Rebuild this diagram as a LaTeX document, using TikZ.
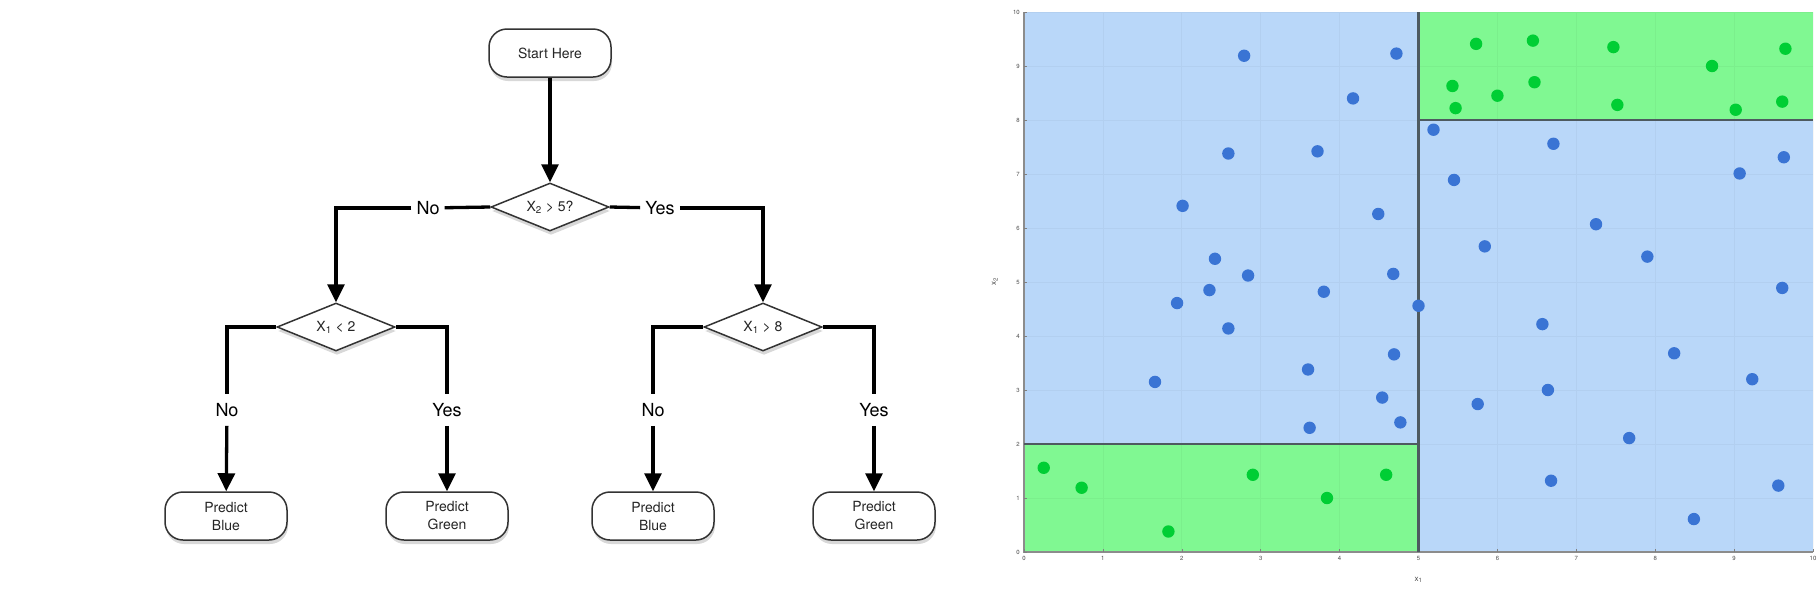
\documentclass[tikz,border=0pt]{standalone}
\usepackage{fontspec}
\setmainfont{TeX Gyre Heros}
\usetikzlibrary{shapes.geometric,arrows.meta,shadows}
\definecolor{regionblue}{RGB}{185,215,249}
\definecolor{regiongreen}{RGB}{128,248,146}
\definecolor{dotblue}{RGB}{58,116,212}
\definecolor{dotgreen}{RGB}{0,206,52}
\definecolor{splitgray}{RGB}{78,90,96}
\def\plotdot[#1](#2){\fill[#1] (#2) circle (6.2pt);}

\tikzset{
	term/.style={draw=black!80, line width=1.5pt, fill=white, rounded corners=18pt,
		minimum width=122pt, minimum height=48pt, align=center, text=black!85,
		font=\fontsize{14}{18}\selectfont,
		drop shadow={shadow xshift=1pt, shadow yshift=-4pt, opacity=0.3}},
	cond/.style={diamond, aspect=2.4, draw=black!80, line width=1.5pt, fill=white,
		minimum width=118pt, minimum height=48pt, inner sep=0pt, text=black!85,
		font=\fontsize{14}{16}\selectfont,
		drop shadow={shadow xshift=1pt, shadow yshift=-4pt, opacity=0.3}},
	lab/.style={inner xsep=5pt, inner ysep=9pt, font=\fontsize{18}{20}\selectfont},
	wire/.style={line width=3.3pt},
	flowarrow/.style={wire, -{Triangle[width=17pt,length=18pt]}},
	ticklab/.style={inner sep=1pt, font=\fontsize{6}{6}\selectfont, text=black!70}
}

\begin{document}
\begin{tikzpicture}[x=1pt, y=-1pt]
		%%%%% START %%%%%
		\fill[white] (0,0) rectangle (1819,590);
		\useasboundingbox (0,0) rectangle (1819,590);
		
		% flowchart
		\node[term] (start) at (550,53) {Start Here};
		\node[cond] (root) at (550,207) {X\textsubscript{2} > 5?};
		\node[cond] (left) at (336,327) {X\textsubscript{1} < 2};
		\node[cond] (right) at (763,327) {X\textsubscript{1} > 8};
		
		\node[term] (leafa) at (226,516) {Predict\\Blue};
		\node[term] (leafb) at (447,516) {Predict\\Green};
		\node[term] (leafc) at (653,516) {Predict\\Blue};
		\node[term] (leafd) at (874,516) {Predict\\Green};
		
		\node[lab] (noroot) at (428,208) {No};
		\node[lab] (yesroot) at (660,208) {Yes};
		\node[lab] (noleft) at (227,410) {No};
		\node[lab] (yesleft) at (447,410) {Yes};
		\node[lab] (noright) at (653,410) {No};
		\node[lab] (yesright) at (874,410) {Yes};
		
		\draw[flowarrow] (start) -- (root);
		\draw[wire] (root.west) -- (noroot);
		\draw[flowarrow] (noroot) -| (left.north);
		\draw[wire] (root.east) -- (yesroot);
		\draw[flowarrow] (yesroot) -| (right.north);
		
		\draw[wire] (left.west) -| (noleft);
		\draw[flowarrow] (noleft) -- (leafa);
		\draw[wire] (left.east) -| (yesleft);
		\draw[flowarrow] (yesleft) -- (leafb);
		\draw[wire] (right.west) -| (noright);
		\draw[flowarrow] (noright) -- (leafc);
		\draw[wire] (right.east) -| (yesright);
		\draw[flowarrow] (yesright) -- (leafd);
		
		% decision regions
		\begin{scope}[shift={(1024,552)}, x=78.9pt, y=54pt]
			\fill[regionblue] (0,0) rectangle (10,10);
			\fill[regiongreen] (0,0) rectangle (5,2);
			\fill[regiongreen] (5,8) rectangle (10,10);
			\draw[black, opacity=0.035, line width=0.8pt, step=1] (0,0) grid (10,10);
			
			\draw[black!45, line width=1.6pt] (0,10) -- (0,0) -- (10,0);
			\foreach \i in {0,...,10} {
				\draw[black!50, line width=0.6pt] (\i,0) -- ++(0,0.06);
				\draw[black!50, line width=0.6pt] (0,\i) -- ++(0.04,0);
				\node[ticklab, below=3pt] (xt\i) at (\i,0) {\i};
				\node[ticklab, left=3pt] (yt\i) at (0,\i) {\i};
			}
			\node[ticklab, font=\fontsize{8}{8}\selectfont] (xname) at (5,-0.52) {x\textsubscript{1}};
			\node[ticklab, font=\fontsize{8}{8}\selectfont, rotate=90] (yname) at (-0.37,5) {x\textsubscript{2}};
			
			\draw[splitgray, line width=2.4pt] (5,0) -- (5,10);
			\draw[splitgray, line width=2.4pt] (0,2) -- (5,2);
			\draw[splitgray, line width=2.4pt] (5,8) -- (10,8);
			
			\foreach \px/\py in {2.79/9.19, 4.72/9.23, 4.17/8.40, 2.59/7.38, 3.72/7.42,
				2.01/6.41, 4.49/6.26, 2.42/5.43, 2.84/5.12, 4.68/5.15, 2.35/4.85,
				3.80/4.82, 1.94/4.61, 5.00/4.56, 2.59/4.14, 4.69/3.66, 3.60/3.38,
				1.66/3.15, 4.54/2.86, 3.62/2.30, 4.77/2.40, 5.19/7.82, 6.71/7.56,
				9.63/7.31, 5.45/6.89, 9.07/7.01, 7.25/6.07, 5.84/5.66, 7.90/5.47,
				9.61/4.89, 6.57/4.22, 8.24/3.68, 9.23/3.20, 6.64/3.00, 5.75/2.74,
				7.67/2.11, 6.68/1.32, 9.56/1.23, 8.49/0.61}
				\plotdot[dotblue](\px,\py);
			\foreach \px/\py in {5.73/9.41, 6.45/9.47, 7.47/9.35, 9.65/9.32, 8.72/9.00,
				5.43/8.63, 6.47/8.70, 6.00/8.45, 5.47/8.22, 7.52/8.28, 9.02/8.19,
				9.61/8.34, 0.25/1.56, 0.73/1.19, 1.83/0.38, 2.90/1.43, 3.84/1.00,
				4.59/1.43}
				\plotdot[dotgreen](\px,\py);
		\end{scope}
		
		%%%%% END %%%%%
	\end{tikzpicture}
\end{document}
